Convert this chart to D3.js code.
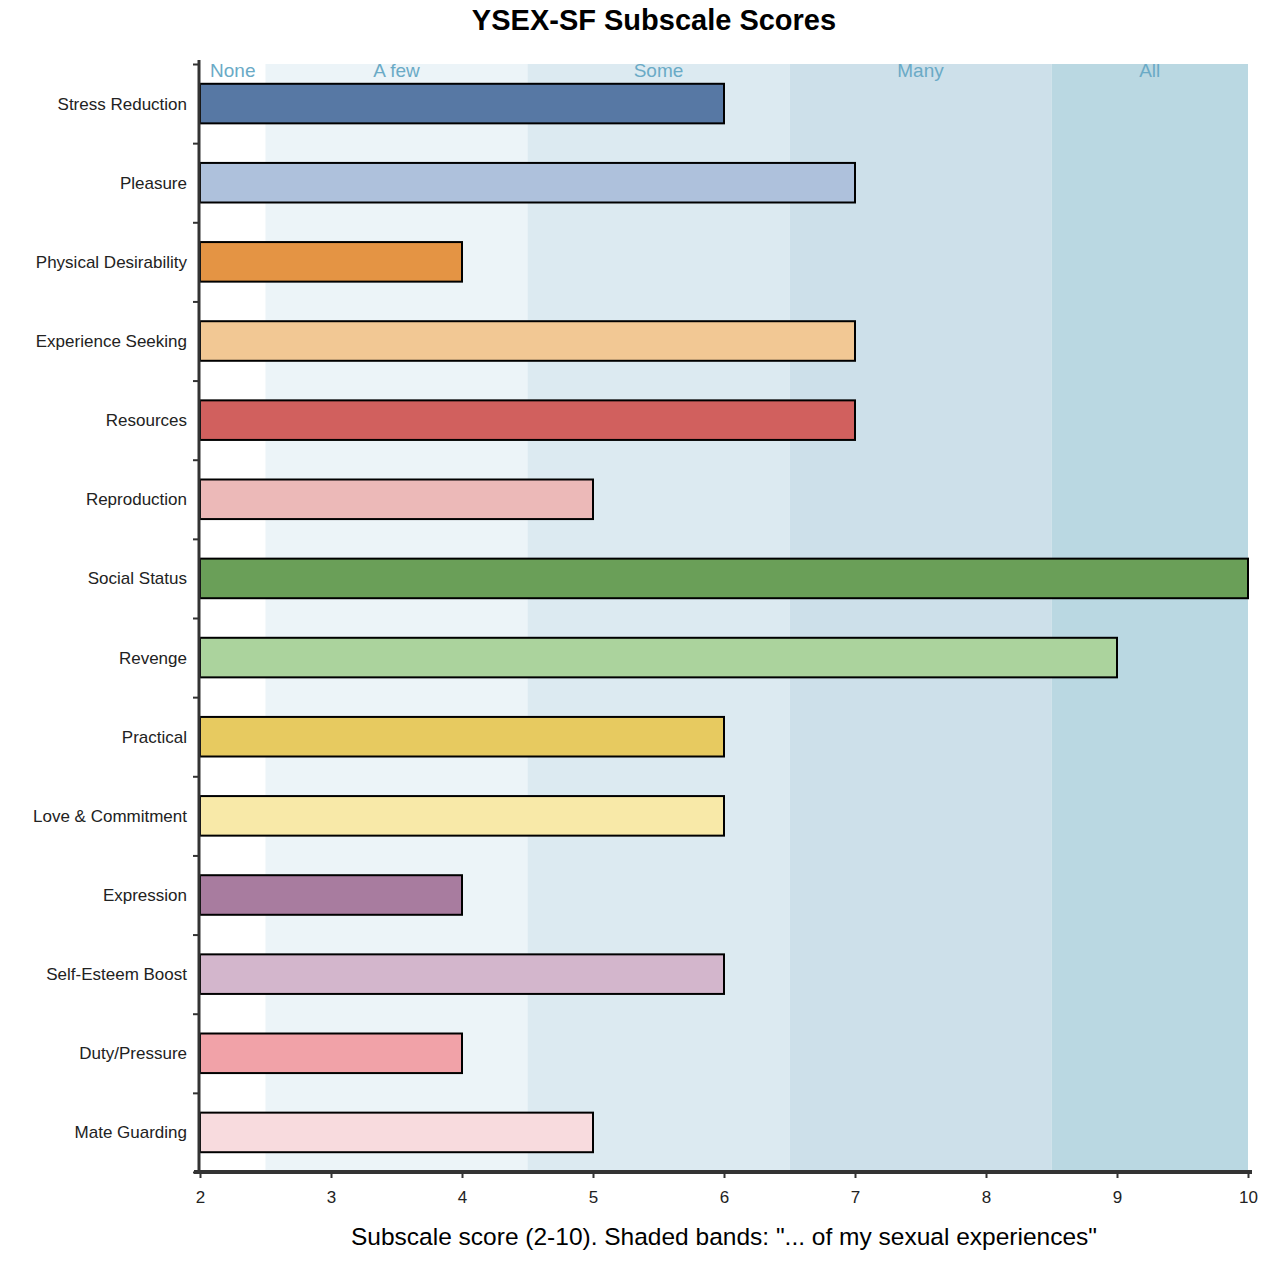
<!DOCTYPE html>
<html><head><meta charset="utf-8">
<script src="https://cdn.jsdelivr.net/npm/d3@7"></script>
<style>body{margin:0;background:#fff;} svg{display:block;font-family:"Liberation Sans",Arial,sans-serif;}</style>
</head><body>
<svg id="chart" width="1284" height="1284"></svg>
<script>
const categories = ["Stress Reduction","Pleasure","Physical Desirability","Experience Seeking","Resources","Reproduction","Social Status","Revenge","Practical","Love & Commitment","Expression","Self-Esteem Boost","Duty/Pressure","Mate Guarding"];
const scores = [6,7,4,7,7,5,10,9,6,6,4,6,4,5];
const barColors = ["#5778a4","#aec1dc","#e49444","#f2c894","#d1605e","#ecb9b8","#6a9f58","#abd39d","#e7ca60","#f8e9a8","#a87c9f","#d3b6cc","#f1a2a8","#f8dbde"];
const bandLabels = ["None","A few","Some","Many","All"];
const bandStarts = [2,2.5,4.5,6.5,8.5];
const bandEnds = [2.5,4.5,6.5,8.5,10];
const bandColors = ["#ffffff","#ecf4f8","#dceaf1","#cde0ea","#bad8e2"];
const xTicks = [2,3,4,5,6,7,8,9,10];

(function(){
const svg = d3.select("#chart");
const mLeft = 200, mRight = 1248, mTop = 64, mBottom = 1172;
const x = d3.scaleLinear().domain([2,10]).range([mLeft,mRight]);
const y = d3.scaleBand().domain(categories).range([mTop,mBottom]).paddingInner(0.5).paddingOuter(0.25);
const yIdx = d3.scaleLinear().domain([0,categories.length]).range([mTop,mBottom]);

// bands
svg.append("g").selectAll("rect").data(bandLabels).join("rect")
  .attr("x",(d,i)=>x(bandStarts[i])).attr("width",(d,i)=>x(bandEnds[i])-x(bandStarts[i]))
  .attr("y",mTop).attr("height",mBottom-mTop).attr("fill",(d,i)=>bandColors[i]);
svg.append("g").selectAll("text").data(bandLabels).join("text")
  .attr("x",(d,i)=>(x(bandStarts[i])+x(bandEnds[i]))/2).attr("y",mTop+13)
  .attr("text-anchor","middle").style("font-size","19px").attr("fill","#6aaac6").text(d=>d);

// bars
svg.append("g").selectAll("rect").data(categories).join("rect")
  .attr("x",x(2)).attr("y",d=>y(d)).attr("height",y.bandwidth())
  .attr("width",(d,i)=>x(scores[i])-x(2))
  .attr("fill",(d,i)=>barColors[i]).attr("stroke","#000").attr("stroke-width",2);

// y axis
const ya = svg.append("g").attr("transform",`translate(${mLeft-1},0)`)
  .call(d3.axisLeft(yIdx).tickValues(d3.range(0,categories.length+1)).tickFormat("").tickSize(6).tickSizeOuter(0));
ya.select(".domain").attr("stroke","#333").attr("stroke-width",3).attr("d",`M0,${mTop-4}V${mBottom}`);
ya.selectAll(".tick line").attr("stroke","#333").attr("stroke-width",2);
svg.append("g").selectAll("text").data(categories).join("text")
  .attr("x",mLeft-13).attr("y",d=>y(d)+y.bandwidth()/2).attr("dy","0.35em")
  .attr("text-anchor","end").style("font-size","17px").attr("fill","#222").text(d=>d);

// x axis
const xa = svg.append("g").attr("transform",`translate(0,${mBottom})`)
  .call(d3.axisBottom(x).tickValues(xTicks).tickFormat(d3.format("d")).tickSize(6).tickSizeOuter(0));
xa.select(".domain").attr("stroke","#333").attr("stroke-width",4).attr("d",`M${mLeft-6},0H${mRight+4}`);
xa.selectAll(".tick line").attr("stroke","#333").attr("stroke-width",2);
xa.selectAll(".tick text").style("font-size","17px").attr("fill","#222").attr("y",15).attr("dy","0.95em").style("font-family","Liberation Sans, Arial, sans-serif");

// titles
svg.append("text").attr("x",654).attr("y",30).attr("text-anchor","middle")
  .style("font-size","29px").attr("font-weight","bold").attr("fill","#000").text("YSEX-SF Subscale Scores");
svg.append("text").attr("x",724).attr("y",1245).attr("text-anchor","middle")
  .style("font-size","24.5px").attr("fill","#000").text('Subscale score (2-10). Shaded bands: "... of my sexual experiences"');
})();
</script>
</body></html>
